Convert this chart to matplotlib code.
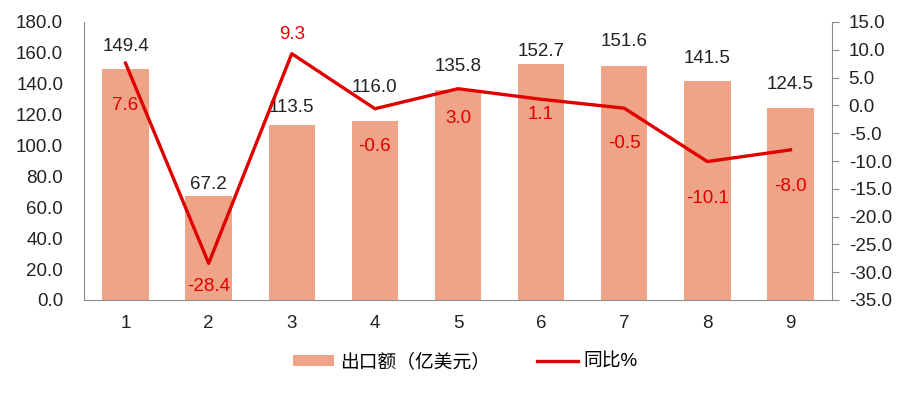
import numpy as np
import matplotlib.pyplot as plt

plt.rcParams['font.family'] = ['Liberation Sans', 'Noto Sans CJK SC', 'DejaVu Sans']

# data
months = ['1', '2', '3', '4', '5', '6', '7', '8', '9']
exports = [149.4, 67.2, 113.5, 116.0, 135.8, 152.7, 151.6, 141.5, 124.5]
yoy = [7.6, -28.4, 9.3, -0.6, 3.0, 1.1, -0.5, -10.1, -8.0]

# label offsets in pixels (as placed in the original)
export_label_dy = [23, 12, 17, 33, 24, 13, 24, 23, 23]
yoy_label_dy = [-42, -23, 19, -38, -30, -15, -35, -37, -37]

bar_color = '#F0A487'
line_color = '#E00000'
grey = '#8C8C8C'

fig = plt.figure(figsize=(9.16, 3.93), dpi=100)
ax = fig.add_axes([84/916, 1 - 300/393, (832-84)/916, (300-22)/393])
ax2 = ax.twinx()

x = np.arange(len(months))
ax.bar(x, exports, width=0.56, color=bar_color, label='出口额（亿美元）', zorder=2)
ax2.plot(x, yoy, color=line_color, lw=2.4, label='同比%', zorder=3)

ax.set_xlim(-0.5, len(months) - 0.5)
ax.set_ylim(0, 180)
ax.set_yticks(np.arange(0, 181, 20))
ax.set_yticklabels([f'{v:.1f}' for v in np.arange(0, 181, 20)])
ax2.set_ylim(-35, 15)
ax2.set_yticks(np.arange(-35, 16, 5))
ax2.set_yticklabels([f'{v:.1f}' for v in np.arange(-35, 16, 5)])
ax.set_xticks(x)
ax.set_xticklabels(months)

for a in (ax, ax2):
    a.spines['top'].set_visible(False)
    for s in a.spines.values():
        s.set_color(grey)
ax.spines['right'].set_visible(False)
ax2.spines['left'].set_visible(False)
ax2.spines['bottom'].set_visible(False)

ax.tick_params(axis='y', length=0, labelsize=13.5, colors='#222222', pad=15)
ax.tick_params(axis='x', length=0, labelsize=13.5, colors='#222222', pad=11)
ax2.tick_params(axis='y', length=5, color=grey, labelsize=13.5, labelcolor='#222222', pad=7)

for xi, v, dy in zip(x, exports, export_label_dy):
    ax.annotate(f'{v:.1f}', (xi, v), xytext=(0, dy), textcoords='offset pixels',
                ha='center', va='center', fontsize=13.5, color='#222222')

for xi, v, dy in zip(x, yoy, yoy_label_dy):
    ax2.annotate(f'{v:.1f}', (xi, v), xytext=(0, dy), textcoords='offset pixels',
                 ha='center', va='center', fontsize=13.5, color=line_color)

h1, l1 = ax.get_legend_handles_labels()
h2, l2 = ax2.get_legend_handles_labels()
fig.legend(h1 + h2, l1 + l2, loc='center', bbox_to_anchor=(0.508, 1 - 362/393),
           ncol=2, frameon=False, fontsize=13.5, handlelength=2.2, handleheight=0.5,
           columnspacing=2.5, handletextpad=0.3)

fig.savefig('out.png', dpi=100)
